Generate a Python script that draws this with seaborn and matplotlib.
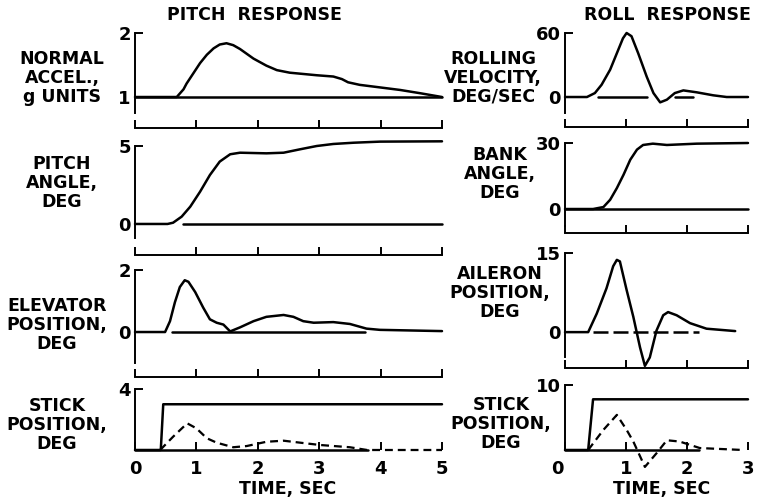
import matplotlib
matplotlib.use("Agg")
import matplotlib.pyplot as plt
import matplotlib.transforms as mtransforms
import seaborn as sns
import pandas as pd

# ---------------- data ----------------
# Pitch response (time 0-5 s)
accel_t = [0, 0.68, 0.79, 0.84, 0.95, 1.06, 1.17, 1.28, 1.38, 1.49, 1.60, 1.71, 1.93, 2.14, 2.31, 2.52, 2.96, 3.23, 3.37, 3.47, 3.66, 3.99, 4.32, 4.64, 5.0]
accel_g = [1.0, 1.0, 1.12, 1.21, 1.37, 1.53, 1.66, 1.76, 1.82, 1.84, 1.81, 1.75, 1.60, 1.49, 1.42, 1.38, 1.34, 1.32, 1.28, 1.23, 1.19, 1.15, 1.11, 1.06, 1.0]

pitch_t = [0, 0.53, 0.62, 0.76, 0.90, 1.06, 1.22, 1.38, 1.55, 1.71, 2.14, 2.42, 2.69, 2.96, 3.23, 3.56, 3.99, 5.0]
pitch_deg = [0, 0, 0.08, 0.47, 1.11, 2.07, 3.14, 4.0, 4.47, 4.57, 4.53, 4.57, 4.79, 5.0, 5.13, 5.21, 5.28, 5.3]

elev_t = [0, 0.49, 0.57, 0.65, 0.73, 0.81, 0.87, 0.98, 1.11, 1.22, 1.33, 1.44, 1.55, 1.71, 1.93, 2.14, 2.42, 2.58, 2.74, 2.91, 3.23, 3.50, 3.77, 3.99, 5.0]
elev_deg = [0, 0, 0.35, 0.96, 1.45, 1.67, 1.62, 1.29, 0.79, 0.41, 0.30, 0.24, 0.02, 0.15, 0.35, 0.49, 0.55, 0.49, 0.35, 0.30, 0.32, 0.26, 0.11, 0.07, 0.03]

stickp_t = [0, 0.42, 0.46, 5.0]
stickp_deg = [0, 0, 3, 3]
stickp_dash_t = [0.41, 0.62, 0.85, 1.0, 1.17, 1.33, 1.60, 1.82, 2.14, 2.42, 2.69, 3.01, 3.50, 3.78, 5.0]
stickp_dash_deg = [0, 0.87, 1.75, 1.42, 0.77, 0.48, 0.18, 0.26, 0.54, 0.61, 0.48, 0.33, 0.18, 0.0, 0.0]

# Roll response (time 0-3 s)
roll_t = [0, 0.36, 0.49, 0.60, 0.74, 0.85, 0.95, 1.01, 1.09, 1.20, 1.34, 1.45, 1.56, 1.67, 1.80, 1.94, 2.16, 2.43, 2.65, 3.0]
roll_rate = [0, 0, 3.7, 11.5, 25.6, 41, 55, 60, 57, 41, 19, 3.7, -5, -2.5, 3.7, 6.2, 4.4, 1.6, 0, 0]

bank_t = [0, 0.46, 0.63, 0.74, 0.85, 0.96, 1.07, 1.18, 1.28, 1.44, 1.67, 2.16, 3.0]
bank_deg = [0, 0, 0.9, 4.2, 9.5, 15.6, 22.4, 27, 29.1, 29.7, 29.1, 29.7, 30]

ail_t = [0, 0.38, 0.52, 0.68, 0.79, 0.85, 0.90, 1.01, 1.12, 1.23, 1.31, 1.39, 1.50, 1.61, 1.69, 1.83, 2.05, 2.32, 2.79]
ail_deg = [0, 0, 3.5, 8.3, 12.5, 13.7, 13.4, 8, 2.9, -2.9, -6.4, -4.8, 0.3, 3.2, 3.8, 3.2, 1.7, 0.65, 0.2]

stickr_t = [0, 0.38, 0.46, 3.0]
stickr_deg = [0, 0, 7.8, 7.8]
stickr_dash_t = [0.38, 0.63, 0.85, 1.01, 1.12, 1.31, 1.50, 1.67, 1.88, 2.21, 2.92]
stickr_dash_deg = [0, 3.1, 5.4, 3.1, 1.3, -2.6, -0.5, 1.5, 1.3, 0.3, 0]

# reference (trim) lines: (value, start time, end time)
ref_accel = [(1.0, 0.0, 5.0)]
ref_pitch = [(0.0, 0.78, 5.0)]
ref_elev = [(0.0, 0.6, 3.75)]
ref_stickp = [(0.0, 0.0, 3.8)]
ref_roll = [(0.0, 0.54, 1.34), (0.0, 1.8, 2.1)]
ref_bank = [(0.0, 0.0, 3.0)]
ref_ail = [(0.0, 0.46, 2.2)]
ref_stickr = [(0.0, 0.0, 2.2)]

# axis tick values
pitch_xticks = [0, 1, 2, 3, 4, 5]
roll_xticks = [0, 1, 2, 3]
yticks = {
    "accel": [1, 2], "pitch": [0, 5], "elev": [0, 2], "stickp": [4],
    "roll": [0, 60], "bank": [0, 30], "ail": [0, 15], "stickr": [10],
}
ylabels = {
    "accel": "NORMAL\nACCEL.,\ng UNITS", "pitch": "PITCH\nANGLE,\nDEG",
    "elev": "ELEVATOR\nPOSITION,\nDEG", "stickp": "STICK\nPOSITION,\nDEG",
    "roll": "ROLLING\nVELOCITY,\nDEG/SEC", "bank": "BANK\nANGLE,\nDEG",
    "ail": "AILERON\nPOSITION,\nDEG", "stickr": "STICK\nPOSITION,\nDEG",
}

# ---------------- figure ----------------
sns.set_theme(style="ticks")
plt.rcParams["font.family"] = ["DejaVu Sans"]
plt.rcParams["axes.linewidth"] = 1.4
plt.rcParams["xtick.color"] = "black"
plt.rcParams["ytick.color"] = "black"
plt.rcParams["text.color"] = "black"
plt.rcParams["axes.labelcolor"] = "black"

W, H = 758, 503
fig = plt.figure(figsize=(W / 100, H / 100), dpi=100)
fig.patch.set_facecolor("white")

LW = 1.8
DASH = (0, (3.5, 2.2))
FW = "bold"


def rect(x0, x1, top, bot):
    return [x0 / W, 1 - bot / H, (x1 - x0) / W, (bot - top) / H]


def panel(key, r, xlim, ylim, spine_lo, xticks, series, dashed, refs,
          ref_style="-", last=False, label_xy=None):
    ax = fig.add_axes(r)
    ax.set_facecolor("white")
    for t, v in series:
        df = pd.DataFrame({"t": t, "v": v})
        sns.lineplot(data=df, x="t", y="v", ax=ax, color="black", lw=LW,
                     estimator=None, sort=False, clip_on=False)
    for t, v in dashed:
        df = pd.DataFrame({"t": t, "v": v})
        sns.lineplot(data=df, x="t", y="v", ax=ax, color="black", lw=LW * 0.9,
                     estimator=None, sort=False, clip_on=False, linestyle=DASH)
    for val, a, b in refs:
        df = pd.DataFrame({"t": [a, b], "v": [val, val]})
        sns.lineplot(data=df, x="t", y="v", ax=ax, color="black", lw=LW,
                     estimator=None, sort=False, clip_on=False,
                     linestyle=ref_style)
    ax.set_xlim(*xlim)
    ax.set_ylim(*ylim)
    ax.set_xlabel("")
    ax.set_ylabel("")
    ax.spines["top"].set_visible(False)
    ax.spines["right"].set_visible(False)
    ax.spines["left"].set_bounds(spine_lo, yticks[key][-1])
    ax.spines["left"].set_color("black")
    ax.spines["bottom"].set_color("black")
    if last:
        ax.spines["bottom"].set_visible(False)
    ax.set_xticks(xticks)
    ax.set_yticks(yticks[key])
    ax.tick_params(axis="x", direction="in", length=6, width=1.4,
                   labelbottom=last, labelsize=13, pad=7)
    ax.tick_params(axis="y", direction="in", length=6, width=1.4,
                   labelsize=13, pad=3)
    for lab in ax.get_xticklabels() + ax.get_yticklabels():
        lab.set_fontweight(FW)
    ax.grid(False)
    fig.text(label_xy[0] / W, 1 - label_xy[1] / H, ylabels[key], ha="center",
             va="center", multialignment="center", fontsize=12.5,
             fontweight=FW, linespacing=1.05)
    return ax


LX0, LX1 = 135, 442
RX0, RX1 = 565, 748

panel("accel", rect(LX0, LX1, 33, 128), (0, 5), (0.516, 2), 0.75, pitch_xticks,
      [(accel_t, accel_g)], [], ref_accel, label_xy=(62, 78))
panel("pitch", rect(LX0, LX1, 146, 255), (0, 5), (-1.99, 5), -0.9, pitch_xticks,
      [(pitch_t, pitch_deg)], [], ref_pitch, label_xy=(62, 183))
panel("elev", rect(LX0, LX1, 270, 377), (0, 5), (-1.45, 2), -1.0, pitch_xticks,
      [(elev_t, elev_deg)], [], ref_elev, label_xy=(57, 325))
axp = panel("stickp", rect(LX0, LX1, 389, 450), (0, 5), (0, 4), 0, pitch_xticks,
            [(stickp_t, stickp_deg)], [(stickp_dash_t, stickp_dash_deg)],
            ref_stickp, last=True, label_xy=(57, 425))

panel("roll", rect(RX0, RX1, 33, 127), (0, 3), (-28.1, 60), -15, roll_xticks,
      [(roll_t, roll_rate)], [], ref_roll, label_xy=(493, 78))
panel("bank", rect(RX0, RX1, 143, 233), (0, 3), (-10.9, 30), -7.5, roll_xticks,
      [(bank_t, bank_deg)], [], ref_bank, label_xy=(500, 174))
panel("ail", rect(RX0, RX1, 253, 368), (0, 3), (-6.8, 15), -4.7, roll_xticks,
      [(ail_t, ail_deg)], [], ref_ail, ref_style=(0, (6, 2)), label_xy=(500, 293))
axr = panel("stickr", rect(RX0, RX1, 385, 450), (0, 3), (0, 10), 0, roll_xticks,
            [(stickr_t, stickr_deg)], [(stickr_dash_t, stickr_dash_deg)],
            ref_stickr, last=True, label_xy=(501, 424))

# shift the "0" time label of the roll panel slightly left, as in the original
fig.canvas.draw()
lbl0 = axr.get_xticklabels()[0]
lbl0.set_transform(lbl0.get_transform() +
                   mtransforms.ScaledTranslation(-8 / 100, 0, fig.dpi_scale_trans))

fig.text(254 / W, 1 - 15 / H, "PITCH  RESPONSE", ha="center", va="center",
         fontsize=12.5, fontweight=FW)
fig.text(667 / W, 1 - 15 / H, "ROLL  RESPONSE", ha="center", va="center",
         fontsize=12.5, fontweight=FW)
fig.text(288 / W, 1 - 489 / H, "TIME, SEC", ha="center", va="center",
         fontsize=12.5, fontweight=FW)
fig.text(662 / W, 1 - 489 / H, "TIME, SEC", ha="center", va="center",
         fontsize=12.5, fontweight=FW)

fig.savefig("out.png", dpi=100, facecolor="white")
